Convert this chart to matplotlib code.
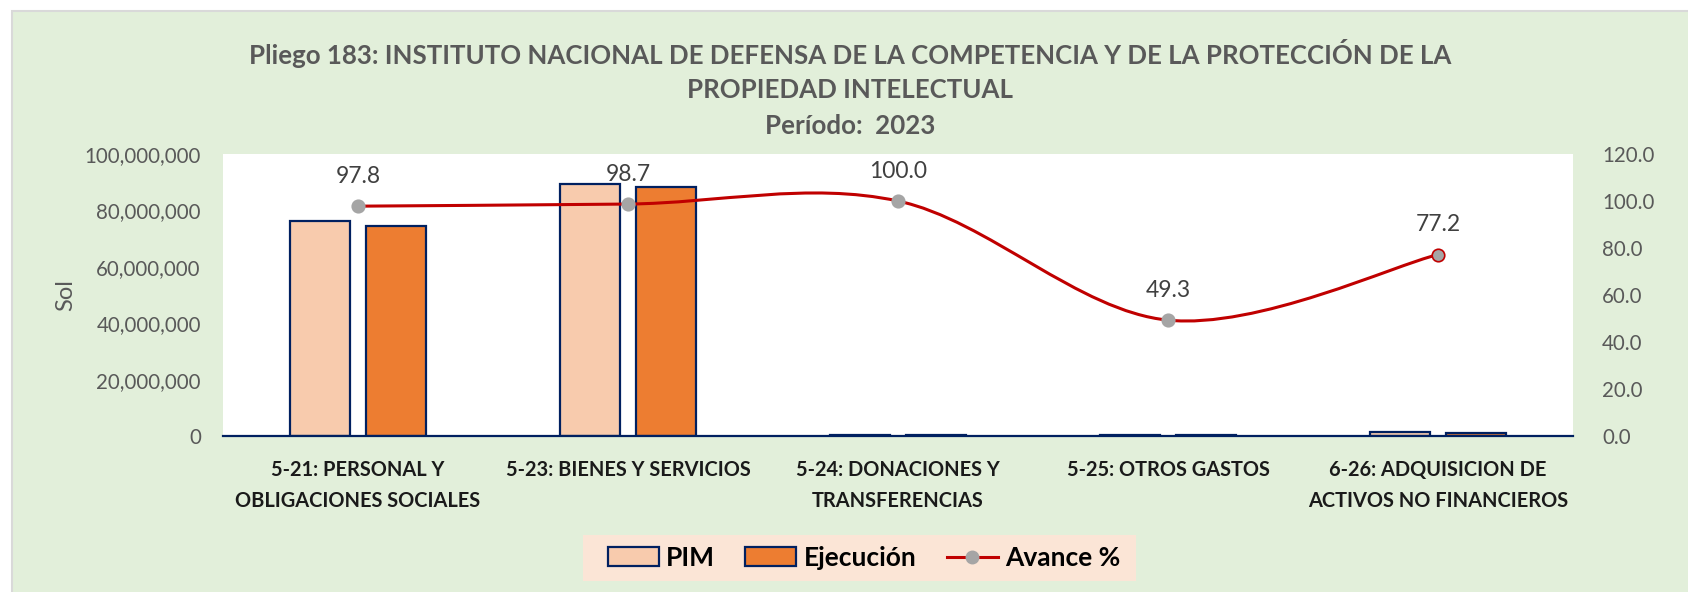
import numpy as np
import matplotlib
matplotlib.use("Agg")
import matplotlib.pyplot as plt
from matplotlib.patches import Rectangle, Patch
from matplotlib.lines import Line2D
from matplotlib.path import Path
from matplotlib.patches import PathPatch
from matplotlib.ticker import FuncFormatter

plt.rcParams['font.family'] = ['Lato', 'DejaVu Sans']

categories = ["5-21: PERSONAL Y\nOBLIGACIONES SOCIALES",
              "5-23: BIENES Y SERVICIOS",
              "5-24: DONACIONES Y\nTRANSFERENCIAS",
              "5-25: OTROS GASTOS",
              "6-26: ADQUISICION DE\nACTIVOS NO FINANCIEROS"]
pim = [76300000, 89400000, 350000, 400000, 1500000]
ejecucion = [74600000, 88200000, 350000, 200000, 1160000]
avance = [97.8, 98.7, 100.0, 49.3, 77.2]

title = ("Pliego 183: INSTITUTO NACIONAL DE DEFENSA DE LA COMPETENCIA Y DE LA PROTECCIÓN DE LA\n"
         "PROPIEDAD INTELECTUAL\nPeríodo:  2023")

W, H = 1688, 592
fig = plt.figure(figsize=(W / 100, H / 100), dpi=100, facecolor="white")
bg = Rectangle((11.5 / W, -0.01), 1.1, (H - 11) / H + 0.01,
               transform=fig.transFigure, facecolor="#E2EFDA",
               edgecolor="#D9D9D9", linewidth=1.5, zorder=-10)
fig.patches.append(bg)
legbox = Rectangle((583 / W, 1 - 581 / H), (1136 - 583) / W, (581 - 535) / H,
                   transform=fig.transFigure, facecolor="#FBE5D6",
                   edgecolor="none", zorder=-5)
fig.patches.append(legbox)

ax = fig.add_axes([223 / W, 1 - 436 / H, (1573 - 223) / W, (436 - 154) / H])
ax.set_facecolor("white")
x = np.arange(len(categories))
bw = 0.222
off = 0.141
ax.bar(x - off, pim, bw, color="#F8CBAD", edgecolor="#002060", linewidth=1.6, zorder=2)
ax.bar(x + off, ejecucion, bw, color="#ED7D31", edgecolor="#002060", linewidth=1.6, zorder=2)
ax.set_xlim(-0.5, len(categories) - 0.5)
ax.set_ylim(0, 100000000)
ax.set_yticks(np.arange(0, 100000001, 20000000))
ax.yaxis.set_major_formatter(FuncFormatter(lambda v, p: f"{int(v):,}"))
ax.set_xticks(x)
ax.set_xticklabels(categories, fontweight="bold", fontsize=14.4, color="#1a1a1a", linespacing=1.7)
ax.tick_params(axis="both", length=0)
ax.tick_params(axis="x", pad=17)
ax.tick_params(axis="y", labelsize=14.8, labelcolor="#595959", pad=16)
for s in ["top", "left", "right"]:
    ax.spines[s].set_visible(False)
ax.spines["bottom"].set_color("#002060")
ax.spines["bottom"].set_linewidth(1.6)
ax.spines["bottom"].set_zorder(3)
ax.set_ylabel("Sol", fontsize=17, color="#595959")
ax.yaxis.set_label_coords(-0.109, 0.5)

ax2 = ax.twinx()
ax2.set_ylim(0, 120)
ax2.set_yticks(np.arange(0, 121, 20))
ax2.yaxis.set_major_formatter(FuncFormatter(lambda v, p: f"{v:.1f}"))
ax2.tick_params(axis="y", length=0, labelsize=14.8, labelcolor="#595959", pad=21)
for s in ["top", "left", "right", "bottom"]:
    ax2.spines[s].set_visible(False)

# Excel-style smoothed line (cubic Bezier through the points)
pts = np.column_stack([x, avance]).astype(float)
n = len(pts)
verts = [tuple(pts[0])]
codes = [Path.MOVETO]
for i in range(n - 1):
    p0 = pts[i - 1] if i > 0 else pts[i]
    p1 = pts[i]
    p2 = pts[i + 1]
    p3 = pts[i + 2] if i + 2 < n else pts[i + 1]
    c1 = p1 + (p2 - p0) / 6.0
    c2 = p2 - (p3 - p1) / 6.0
    verts += [tuple(c1), tuple(c2), tuple(p2)]
    codes += [Path.CURVE4] * 3
ax2.add_patch(PathPatch(Path(verts, codes), facecolor="none", edgecolor="#C00000",
                        linewidth=2.2, zorder=4))
ec = ["#A5A5A5"] * (n - 1) + ["#C00000"]
for i in range(n):
    ax2.plot(x[i], avance[i], "o", color="#A5A5A5", markersize=9,
             markeredgecolor=ec[i], markeredgewidth=1.2, zorder=5)
    ax2.annotate(f"{avance[i]:.1f}", (x[i], avance[i]), xytext=(0, 21.5),
                 textcoords="offset points", ha="center", va="center",
                 fontsize=16.5, color="#404040", zorder=6)

fig.text(850 / W, 1 - 88 / H, title, ha="center", va="center", fontsize=18.6,
         fontweight="bold", color="#595959", linespacing=1.55)

handles = [Patch(facecolor="#F8CBAD", edgecolor="#002060", linewidth=1.6),
           Patch(facecolor="#ED7D31", edgecolor="#002060", linewidth=1.6),
           Line2D([0], [0], color="#C00000", linewidth=2.2, marker="o",
                  markersize=9, markerfacecolor="#A5A5A5", markeredgecolor="#A5A5A5")]
leg = fig.legend(handles, ["PIM", "Ejecución", "Avance %"], loc="center",
                 bbox_to_anchor=(864 / W, 1 - 558 / H), ncol=3, frameon=False,
                 prop={"weight": "bold", "size": 19},
                 handlelength=1.93, handleheight=0.72, handletextpad=0.27,
                 columnspacing=1.16)

fig.savefig("out.png", dpi=100, facecolor=fig.get_facecolor())
